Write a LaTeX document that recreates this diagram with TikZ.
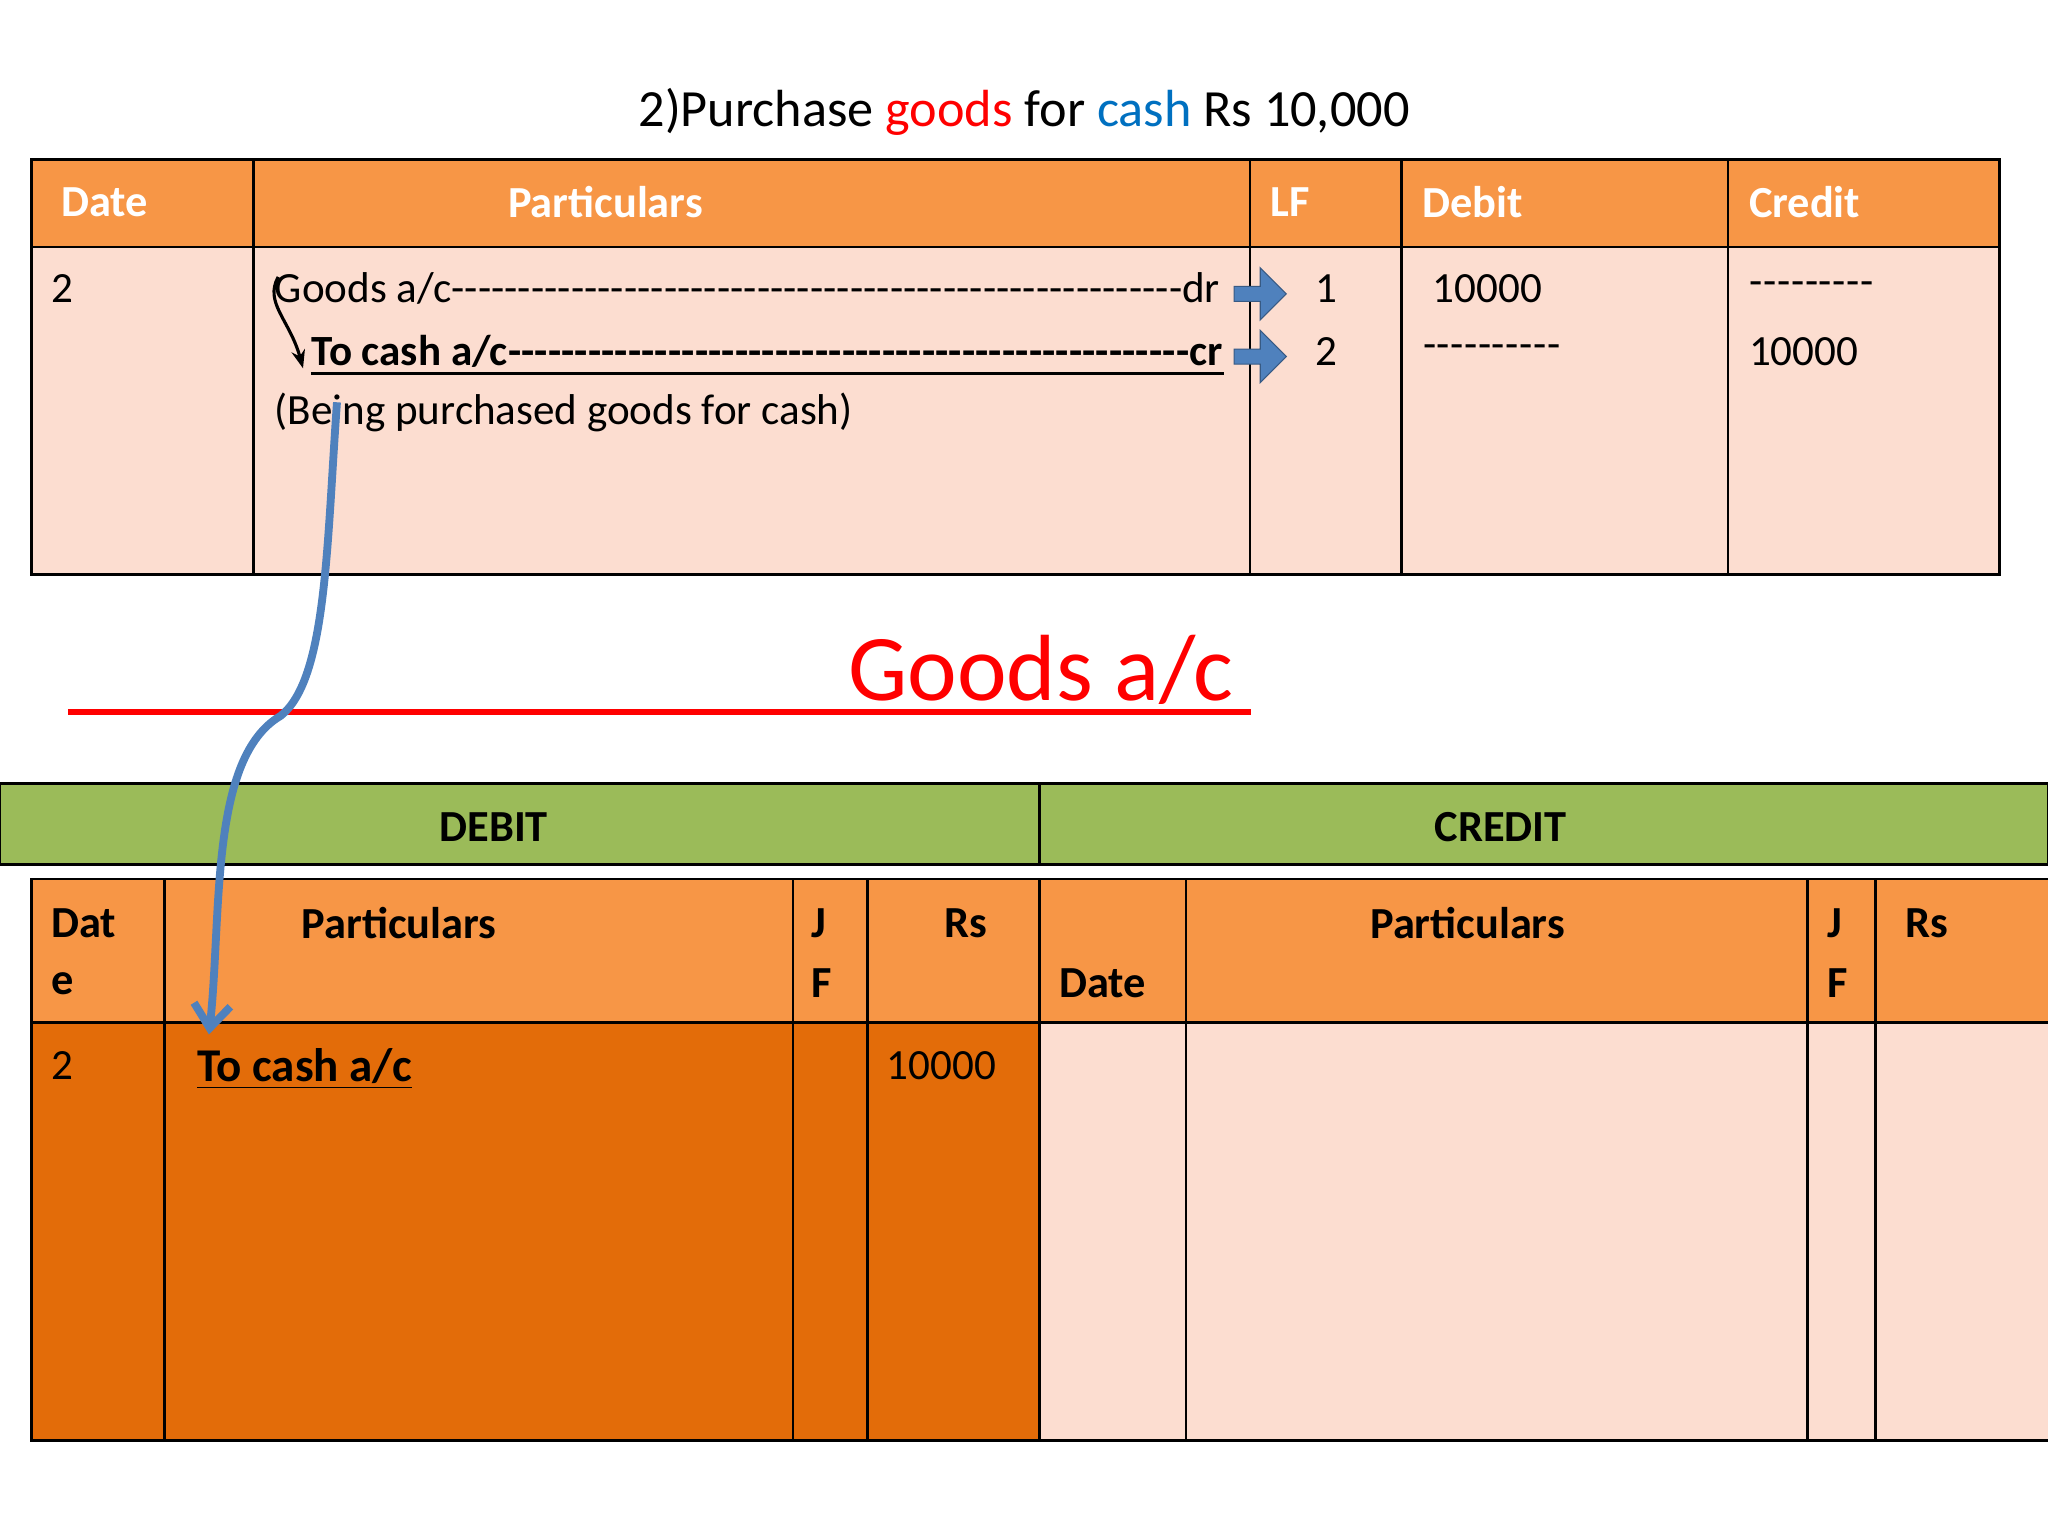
\documentclass[tikz,border=0pt]{standalone}
\usepackage{fontspec}
\setmainfont{Carlito}
\usetikzlibrary{shapes.arrows,arrows.meta}
\definecolor{hdr}{HTML}{F79646}
\definecolor{lite}{HTML}{FCDDD0}
\definecolor{dark}{HTML}{E36C09}
\definecolor{grn}{HTML}{9BBB59}
\definecolor{blu}{HTML}{4F81BD}
\definecolor{ttlblue}{HTML}{0070C0}
\tikzset{
 cell/.style={draw=black,line width=1pt},
 hd/.style={font=\fontsize{17}{20}\selectfont\bfseries,text=white,anchor=west},
 bd/.style={font=\fontsize{16.5}{20}\selectfont,anchor=west},
 bh/.style={font=\fontsize{17}{20}\selectfont\bfseries,text=black,anchor=west},
 barrow/.style={single arrow,draw=blu!70!black,fill=blu,minimum height=20pt,minimum width=20pt,single arrow head extend=3pt,inner sep=1pt}
}
\begin{document}
\begin{tikzpicture}[x=0.5pt,y=-0.5pt]
\useasboundingbox (0,0) rectangle (1568,1176);
\fill[white] (0,0) rectangle (1568,1176);
\node[font=\fontsize{20}{24}\selectfont] (title) at (784,86) {2)Purchase \textcolor{red}{goods} for \textcolor{ttlblue}{cash} Rs 10,000};
% top table
\fill[hdr] (24,122) rectangle (1531,189);
\fill[lite] (24,189) rectangle (1531,440);
\draw[cell] (24,122) rectangle (1531,440);
\draw[cell] (24,189) -- (1531,189);
\foreach \x in {194,957,1073,1323} \draw[cell] (\x,122) -- (\x,440);
\node[hd] (h1) at (40,155) {Date};
\node[hd] (h2) at (382,155) {Particulars};
\node[hd] (h3) at (966,155) {LF};
\node[hd] (h4) at (1082,155) {Debit};
\node[hd] (h5) at (1332,155) {Credit};
\node[bd] (d2) at (32,221) {2};
\node[bd,inner sep=0pt] (l1) at (210,221) {\makebox[362pt][s]{Goods a/c\xleaders\hbox{-}\hfill dr}};
\node[bd,inner sep=0pt,font=\fontsize{16.5}{20}\selectfont\bfseries] (l2) at (238,269) {\makebox[349pt][s]{To cash a/c\xleaders\hbox{-}\hfill cr}};
\draw[line width=1pt] (238,286) -- (937,286);
\node[bd,inner sep=0pt] (l3) at (210,316) {(Being purchased goods for cash)};
\node[barrow] (a1) at (962,225) {};
\node[barrow] (a2) at (962,273) {};
\node[bd] (lf1) at (1000,221) {1};
\node[bd] (lf2) at (1000,269) {2};
\node[bd] (db1) at (1090,221) {10000};
\node[bd] (db2) at (1082,269) {\makebox[53pt][s]{\xleaders\hbox{-}\hfill}};
\node[bd] (cr1) at (1332,221) {\makebox[48pt][s]{\xleaders\hbox{-}\hfill}};
\node[bd] (cr2) at (1332,269) {10000};
\draw[line width=1.2pt,-{Stealth[length=7pt]}] (213,212) .. controls (202,232) and (222,245) .. (232,282);
% Goods a/c heading
\node[text=red,font=\fontsize{36}{40}\selectfont,anchor=base] (gac) at (797,536) {Goods a/c};
\draw[red,line width=2.5pt] (52,545) -- (958,545);
% green bar
\fill[grn] (0,600) rectangle (1568,662);
\draw[cell] (0,600) rectangle (1568,662);
\draw[cell] (796,600) -- (796,662);
\node[font=\fontsize{17}{20}\selectfont\bfseries] (deb) at (378,633) {DEBIT};
\node[font=\fontsize{17}{20}\selectfont\bfseries] (cre) at (1149,633) {CREDIT};
% bottom table
\fill[hdr] (24,673) rectangle (1568,783);
\fill[dark] (24,783) rectangle (796,1103);
\fill[lite] (796,783) rectangle (1568,1103);
\draw[cell] (1568,673) -- (24,673) -- (24,1103) -- (1568,1103);
\draw[cell] (24,783) -- (1568,783);
\foreach \x in {126,607,664,796,908,1384,1436} \draw[cell] (\x,673) -- (\x,1103);
\node[bh] (b1) at (32,707) {Dat};
\node[bh] (b1b) at (32,753) {e};
\node[bh] (b2) at (224,707) {Particulars};
\node[bh] (b3) at (614,707) {J};
\node[bh] (b3b) at (614,753) {F};
\node[bh] (b4) at (716,707) {Rs};
\node[bh] (b5) at (804,753) {Date};
\node[bh] (b6) at (1042,707) {Particulars};
\node[bh] (b7) at (1392,707) {J};
\node[bh] (b7b) at (1392,753) {F};
\node[bh] (b8) at (1452,707) {Rs};
\node[bd] (e1) at (32,816) {2};
\node[bd,font=\fontsize{18}{22}\selectfont\bfseries] (e2) at (144,818) {\underline{To cash a/c}};
\node[bd] (e3) at (672,816) {10000};
% blue curve
\draw[blu,line width=3pt,-{Straight Barb[length=9pt,width=14pt]}] (258,308) .. controls (250,420) and (250,520) .. (215,548) .. controls (160,580) and (170,700) .. (160,792);
\end{tikzpicture}
\end{document}
